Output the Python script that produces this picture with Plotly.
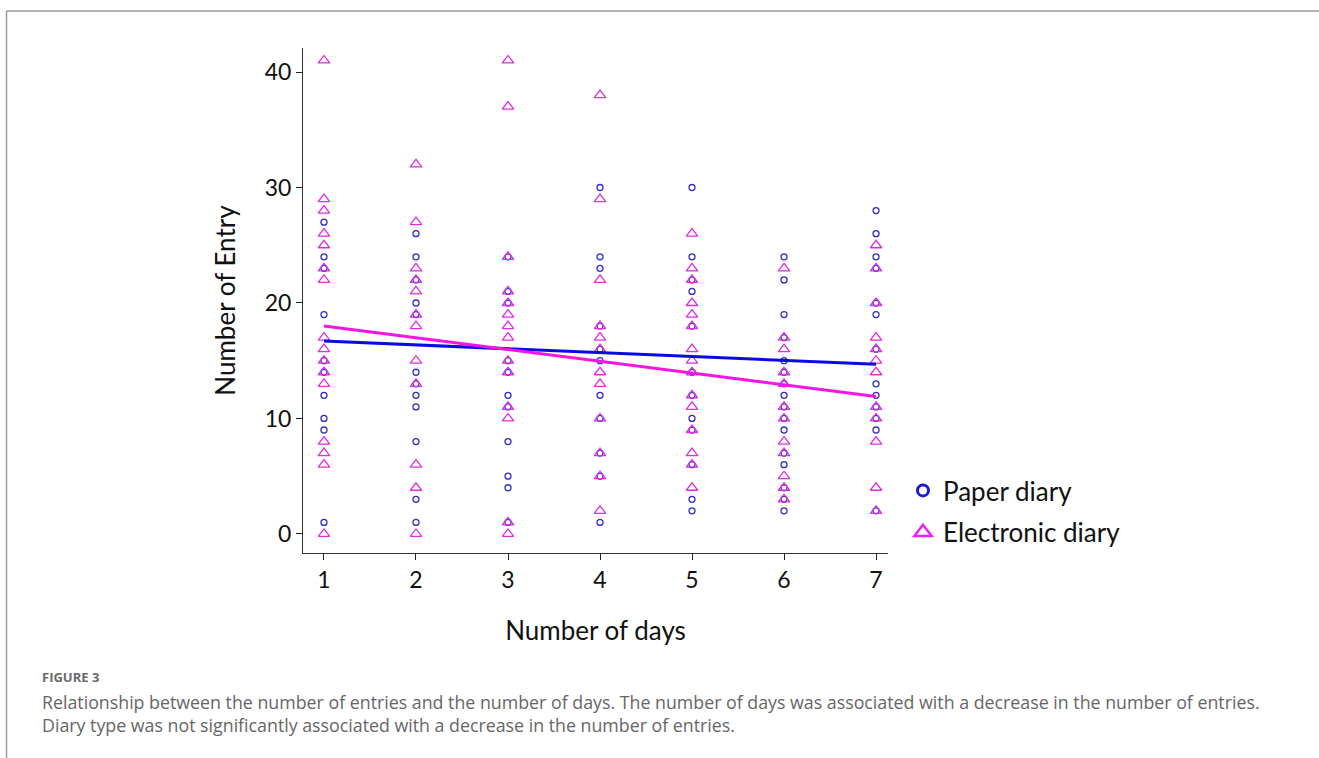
import plotly.graph_objects as go

# ---------------- data ----------------
days = [1, 2, 3, 4, 5, 6, 7]

paper_by_day = {
    1: [27, 24, 23, 19, 15, 14, 12, 10, 9, 1],
    2: [26, 24, 22, 20, 19, 14, 13, 12, 11, 8, 3, 1],
    3: [24, 21, 20, 15, 14, 12, 11, 8, 5, 4, 1],
    4: [30, 24, 23, 18, 16, 15, 12, 10, 7, 5, 1],
    5: [30, 24, 22, 21, 18, 14, 12, 10, 9, 6, 3, 2],
    6: [24, 22, 19, 17, 15, 14, 13, 12, 11, 10, 9, 7, 6, 4, 3, 2],
    7: [28, 26, 24, 23, 20, 19, 16, 13, 12, 11, 10, 9, 2],
}
electronic_by_day = {
    1: [41, 29, 28, 26, 25, 23, 22, 17, 16, 15, 14, 13, 8, 7, 6, 0],
    2: [32, 27, 23, 22, 21, 19, 18, 15, 13, 6, 4, 0],
    3: [41, 37, 24, 21, 20, 19, 18, 17, 15, 14, 11, 10, 1, 0],
    4: [38, 29, 22, 18, 17, 16, 14, 13, 10, 7, 5, 2],
    5: [26, 23, 22, 20, 19, 18, 16, 15, 14, 12, 11, 9, 7, 6, 4],
    6: [23, 17, 16, 14, 13, 11, 10, 8, 7, 5, 4, 3],
    7: [25, 23, 20, 17, 16, 15, 14, 11, 10, 8, 4, 2],
}

fit_x = [1, 7]
paper_fit = [16.7, 14.7]
electronic_fit = [18.0, 11.9]

y_ticks = [0, 10, 20, 30, 40]
series_names = ["Paper diary", "Electronic diary"]

caption_label = "FIGURE 3"
caption_lines = [
    "Relationship between the number of entries and the number of days. The number of days was associated with a decrease in the number of entries.",
    "Diary type was not significantly associated with a decrease in the number of entries.",
]

# ---------------- build ----------------
W, H = 1319, 758
px_x = lambda p: p / W
px_y = lambda p: 1 - p / H

paper_x, paper_y = [], []
for d in days:
    for v in paper_by_day[d]:
        paper_x.append(d)
        paper_y.append(v)
elec_x, elec_y = [], []
for d in days:
    for v in electronic_by_day[d]:
        elec_x.append(d)
        elec_y.append(v)

BLUE_PT = "#2f2fc8"
BLUE_LN = "#0a0ae6"
MAG_PT = "#e02ee0"
MAG_LN = "#f514e6"
FONT = "Lato"

fig = go.Figure()

fig.add_trace(go.Scatter(
    x=paper_x, y=paper_y, mode="markers", showlegend=False,
    marker=dict(symbol="circle-open", size=6, color=BLUE_PT, line=dict(width=1.3, color=BLUE_PT)),
))
fig.add_trace(go.Scatter(
    x=elec_x, y=elec_y, mode="markers", showlegend=False,
    marker=dict(symbol="triangle-up-open", size=10, color=MAG_PT, line=dict(width=1.3, color=MAG_PT)),
))
fig.add_trace(go.Scatter(
    x=fit_x, y=paper_fit, mode="lines", showlegend=False,
    line=dict(color=BLUE_LN, width=3),
))
fig.add_trace(go.Scatter(
    x=fit_x, y=electronic_fit, mode="lines", showlegend=False,
    line=dict(color=MAG_LN, width=3),
))

# legend-only traces
fig.add_trace(go.Scatter(
    x=[None], y=[None], mode="markers", name=series_names[0], legendgroup="a",
    marker=dict(symbol="circle-open", size=11, color="#1a1ad0", line=dict(width=3, color="#1a1ad0")),
))
fig.add_trace(go.Scatter(
    x=[None], y=[None], mode="markers", name=series_names[1], legendgroup="b",
    marker=dict(symbol="triangle-up-open", size=15, color="#ee22ee", line=dict(width=2.5, color="#ee22ee")),
))

fig.update_layout(
    width=W, height=H,
    margin=dict(l=0, r=0, t=0, b=0),
    paper_bgcolor="white", plot_bgcolor="white",
    font=dict(family=FONT, color="#111111"),
    showlegend=True,
    legend=dict(
        x=px_x(903), y=px_y(467), xanchor="left", yanchor="top",
        font=dict(size=26, family=FONT, color="#111111"),
        tracegroupgap=5, itemsizing="trace",
        bgcolor="rgba(0,0,0,0)",
    ),
    xaxis=dict(
        domain=[px_x(303), px_x(888)],
        range=[0.772, 7.13],
        tickvals=days, ticktext=[str(d) for d in days],
        ticks="outside", ticklen=6, tickcolor="#222222",
        showline=True, linecolor="#333333", linewidth=1,
        showgrid=False, zeroline=False,
        tickfont=dict(size=23, family=FONT, color="#111111"),
        title=dict(text="Number of days", font=dict(size=26, family=FONT, color="#111111"), standoff=30),
        anchor="y",
    ),
    yaxis=dict(
        domain=[px_y(553), px_y(48)],
        range=[-1.65, 42.08],
        tickvals=y_ticks,
        ticks="outside", ticklen=6, tickcolor="#222222",
        showline=True, linecolor="#333333", linewidth=1,
        showgrid=False, zeroline=False,
        tickfont=dict(size=23, family=FONT, color="#111111"),
        title=dict(text="Number of Entry", font=dict(size=26, family=FONT, color="#111111"), standoff=21),
        anchor="x",
    ),
)

# frame (left and top gray borders)
fig.add_shape(type="line", xref="paper", yref="paper",
              x0=px_x(6.5), x1=px_x(6.5), y0=px_y(11), y1=px_y(760),
              line=dict(color="#9a9a9a", width=1.5))
fig.add_shape(type="line", xref="paper", yref="paper",
              x0=px_x(6.5), x1=px_x(1325), y0=px_y(11), y1=px_y(11),
              line=dict(color="#9a9a9a", width=1.5))

# caption
fig.add_annotation(xref="paper", yref="paper", x=px_x(40), y=px_y(677),
                   xanchor="left", yanchor="middle", showarrow=False,
                   text="<b>" + caption_label + "</b>", font=dict(size=13, family="Open Sans", color="#6a6a6a"))
fig.add_annotation(xref="paper", yref="paper", x=px_x(40), y=px_y(702),
                   xanchor="left", yanchor="middle", showarrow=False,
                   text=caption_lines[0], font=dict(size=17.8, family="Open Sans", color="#666666"))
fig.add_annotation(xref="paper", yref="paper", x=px_x(40), y=px_y(725),
                   xanchor="left", yanchor="middle", showarrow=False,
                   text=caption_lines[1], font=dict(size=17.8, family="Open Sans", color="#666666"))

fig.write_html("out.html", config={"displayModeBar": False},
               post_script="document.body.style.margin='0';document.body.style.overflow='hidden';")
